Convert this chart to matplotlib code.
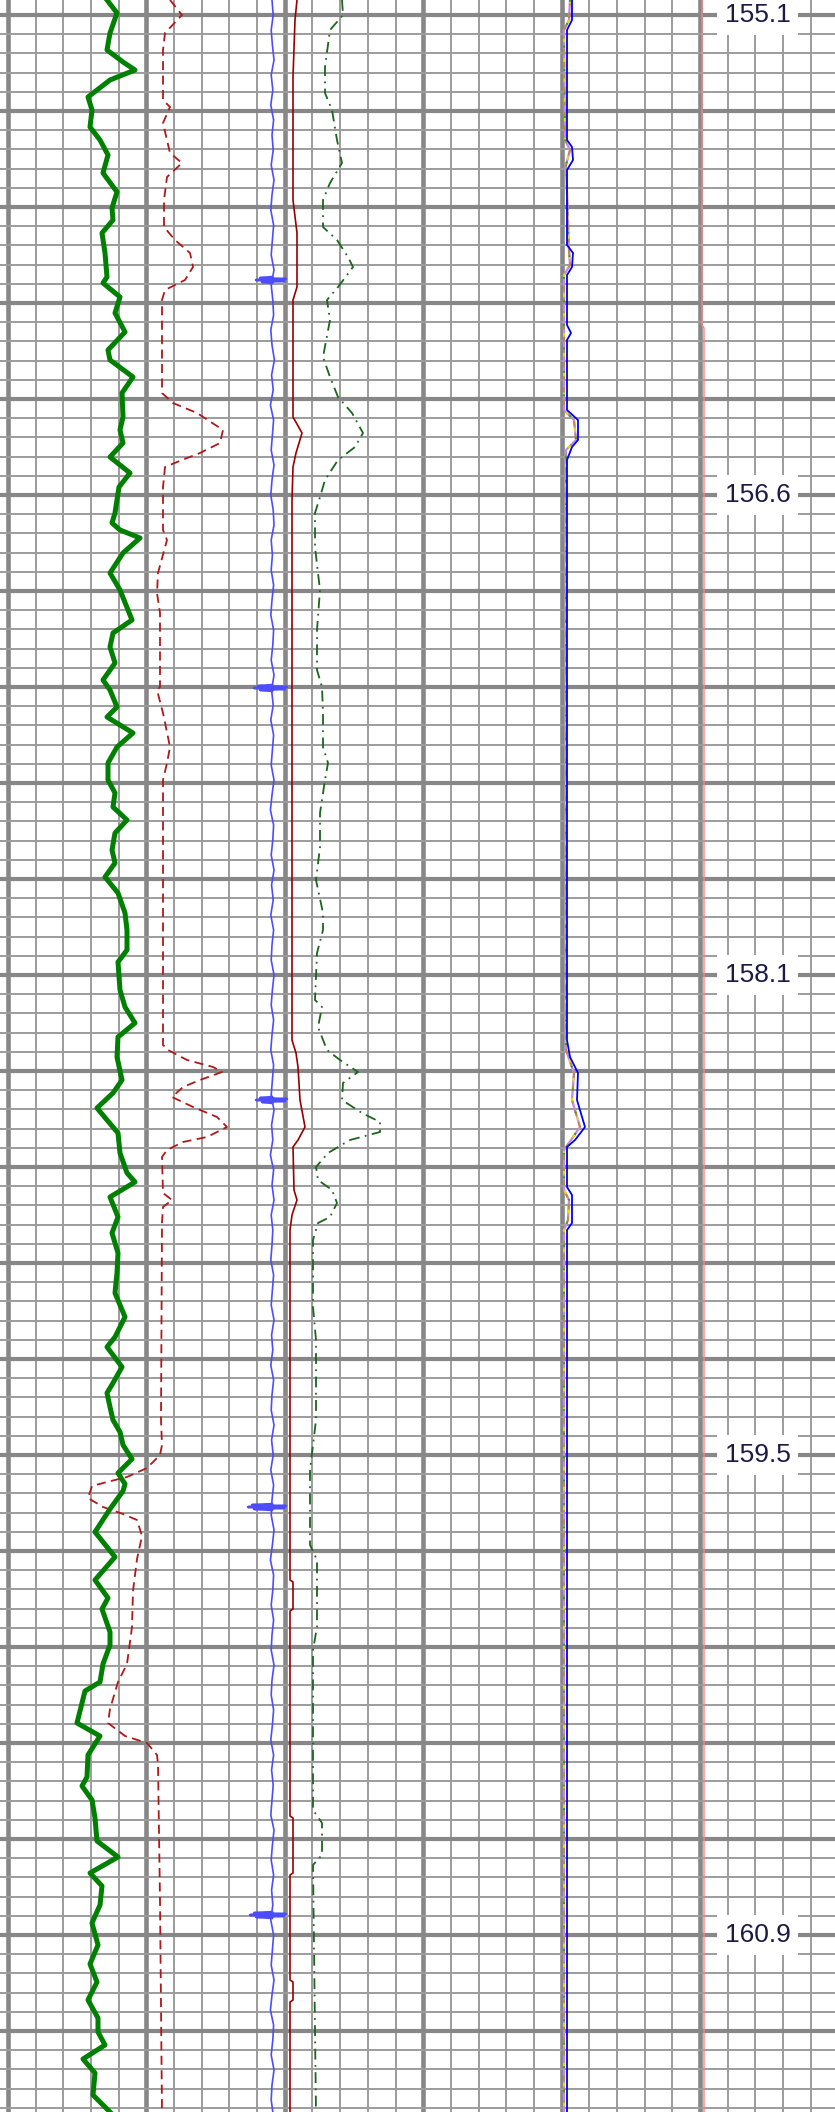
import numpy as np
import matplotlib
matplotlib.use("Agg", force=True)
import matplotlib.pyplot as plt

# depths in metres, curve values in track scale units (0..173 across the main track)
gr_depth = [155.055, 155.094, 155.154, 155.205, 155.241, 155.265, 155.295, 155.346, 155.385, 155.436,
            155.475, 155.52, 155.574, 155.631, 155.679, 155.715, 155.754, 155.814, 155.886, 155.904,
            155.946, 155.994, 156.051, 156.105, 156.135, 156.186, 156.234, 156.306, 156.345, 156.384,
            156.426, 156.474, 156.516, 156.555, 156.594, 156.624, 156.645, 156.669, 156.714, 156.774,
            156.825, 156.915, 156.954, 156.996, 157.044, 157.095, 157.125, 157.176, 157.206, 157.254,
            157.296, 157.344, 157.395, 157.434, 157.476, 157.515, 157.554, 157.605, 157.644, 157.686,
            157.734, 157.794, 157.845, 157.905, 157.941, 158.025, 158.076, 158.124, 158.166, 158.226,
            158.295, 158.334, 158.379, 158.415, 158.454, 158.514, 158.574, 158.601, 158.646, 158.706,
            158.754, 158.814, 158.874, 158.934, 159.006, 159.066, 159.096, 159.156, 159.204, 159.234,
            159.276, 159.315, 159.351, 159.39, 159.432, 159.474, 159.507, 159.528, 159.582, 159.651,
            159.726, 159.795, 159.849, 159.882, 159.951, 159.99, 160.047, 160.101, 160.128, 160.224,
            160.263, 160.32, 160.386, 160.413, 160.455, 160.509, 160.578, 160.626, 160.674, 160.713,
            160.77, 160.824, 160.89, 160.947, 161.001, 161.055, 161.109, 161.151, 161.19, 161.232,
            161.274, 161.34, 161.391]
gr_val = [24.75, 27.25, 25.5, 24.75, 28.75, 31.75, 25.5, 20.0, 21.0, 20.5,
          23.0, 25.0, 23.75, 27.25, 26.0, 26.25, 23.5, 24.25, 24.75, 23.75,
          28.0, 26.75, 29.25, 25.0, 25.5, 31.25, 28.5, 28.75, 28.0, 28.75,
          25.5, 30.5, 27.75, 27.25, 26.75, 26.0, 28.0, 33.0, 28.75, 25.5,
          28.0, 31.0, 26.25, 25.5, 26.75, 23.75, 25.5, 27.25, 24.75, 31.25,
          27.25, 25.0, 25.0, 26.75, 26.25, 29.75, 26.75, 26.0, 26.75, 24.25,
          27.5, 29.25, 29.75, 29.75, 27.5, 28.0, 29.25, 31.75, 27.5, 27.25,
          28.5, 26.25, 22.25, 24.75, 27.5, 28.0, 29.75, 31.75, 25.5, 27.5,
          26.0, 27.5, 27.25, 26.75, 29.25, 26.75, 24.75, 28.5, 26.25, 24.75,
          25.5, 26.25, 28.0, 28.75, 31.0, 27.5, 29.25, 28.75, 25.5, 21.75,
          26.75, 21.75, 25.0, 23.5, 25.5, 25.5, 23.75, 23.0, 19.25, 17.25,
          23.0, 20.0, 19.75, 18.5, 21.0, 21.75, 22.25, 27.5, 20.5, 23.5,
          23.0, 21.0, 22.5, 20.5, 22.25, 20.0, 22.5, 22.5, 24.25, 18.75,
          21.75, 21.25, 25.5]

res_depth = [155.055, 155.1, 155.154, 155.205, 155.355, 155.376, 155.424, 155.514, 155.544, 155.586,
             155.655, 155.736, 155.775, 155.814, 155.856, 155.895, 155.925, 155.955, 156.234, 156.264,
             156.294, 156.345, 156.384, 156.414, 156.435, 156.456, 156.516, 156.645, 156.675, 156.774,
             156.834, 156.894, 157.116, 157.125, 157.194, 157.296, 157.344, 157.395, 158.19, 158.205,
             158.235, 158.256, 158.271, 158.295, 158.316, 158.346, 158.376, 158.406, 158.436, 158.466,
             158.481, 158.505, 158.526, 158.634, 158.655, 158.676, 158.724, 159.315, 159.39, 159.42,
             159.459, 159.486, 159.501, 159.513, 159.549, 159.576, 159.597, 159.615, 159.663, 159.732,
             159.828, 159.936, 160.047, 160.101, 160.182, 160.224, 160.263, 160.284, 160.32, 160.347,
             160.755, 161.391]
res_val = [40.5, 43.5, 39.25, 38.75, 38.75, 40.5, 38.75, 40.5, 43.5, 39.75,
           39.0, 39.0, 41.75, 45.5, 46.25, 44.25, 39.25, 38.5, 38.5, 41.25,
           47.25, 53.75, 53.0, 48.0, 43.5, 39.25, 38.75, 38.75, 39.75, 37.5,
           37.25, 38.0, 38.0, 37.25, 38.75, 40.5, 39.75, 38.75, 38.75, 40.0,
           44.75, 51.25, 53.5, 48.0, 43.75, 41.0, 46.25, 52.25, 54.75, 49.75,
           43.75, 39.75, 38.5, 38.75, 41.0, 38.75, 38.5, 38.25, 38.5, 38.0,
           34.75, 29.75, 24.75, 21.0, 20.0, 23.75, 28.75, 32.25, 33.5, 32.25,
           31.25, 31.0, 29.75, 27.5, 25.5, 25.0, 29.25, 34.75, 37.25, 37.5,
           38.0, 38.5]

nphi_depth = [155.055, 155.1, 155.145, 155.256, 155.334, 155.385, 155.475, 155.544, 155.604, 155.655,
              155.736, 155.775, 155.826, 155.856, 155.916, 155.955, 156.015, 156.126, 156.186, 156.246,
              156.294, 156.354, 156.396, 156.435, 156.495, 156.546, 156.594, 156.696, 156.774, 156.825,
              156.945, 157.065, 157.116, 157.194, 157.296, 157.344, 157.395, 157.494, 157.596, 157.695,
              157.794, 157.845, 157.914, 158.055, 158.076, 158.136, 158.205, 158.235, 158.271, 158.304,
              158.355, 158.394, 158.421, 158.451, 158.475, 158.514, 158.556, 158.595, 158.625, 158.664,
              158.706, 158.724, 158.775, 158.976, 159.075, 159.315, 159.39, 159.465, 159.69, 159.735,
              159.936, 160.005, 160.485, 160.524, 160.62, 160.65, 161.391]
nphi_val = [83.5, 83.75, 80.5, 79.25, 79.25, 81.0, 82.25, 83.5, 80.5, 78.75,
            78.75, 82.25, 85.0, 86.25, 82.5, 79.75, 80.5, 78.75, 80.5, 82.5,
            86.0, 88.75, 86.75, 82.5, 79.25, 78.0, 76.75, 76.75, 77.5, 78.0,
            77.25, 77.25, 78.5, 78.75, 78.75, 80.0, 79.25, 78.0, 78.0, 77.0,
            78.75, 78.75, 77.25, 76.75, 78.5, 77.5, 79.75, 83.0, 87.5, 83.75,
            83.5, 88.5, 93.0, 93.0, 85.5, 80.0, 77.0, 77.5, 81.0, 82.25,
            80.5, 77.5, 76.25, 76.25, 77.0, 77.0, 76.25, 75.5, 75.5, 77.25,
            77.25, 76.25, 76.25, 78.5, 78.5, 76.25, 77.0]

cal_depth = [155.055, 155.115, 155.286, 155.655, 155.754, 155.916, 155.955, 156.306, 156.354, 156.414,
             156.456, 156.555, 158.175, 158.214, 158.256, 158.355, 158.436, 158.475, 158.496, 158.625,
             158.655, 158.70, 158.745, 159.795, 159.801, 159.882, 159.888, 160.503, 160.509, 160.674,
             160.68, 160.995, 161.001, 161.055, 161.061, 161.391]
cal_val = [72.25, 71.75, 71.25, 71.25, 72.25, 72.25, 71.25, 71.25, 73.5, 72.0,
           71.25, 71.0, 71.0, 72.0, 72.5, 73.0, 74.25, 72.5, 71.25, 71.5,
           72.25, 71.0, 70.5, 70.5, 71.25, 71.25, 70.5, 70.5, 71.25, 71.25,
           70.5, 70.5, 71.25, 71.25, 70.5, 70.5]

# noisy sonic-type log, sampled every 0.045 m from the top
noise_top = 155.055
noise_step = 0.045
noise_val = [66.0, 66.3, 65.8, 66.1, 66.5, 65.8, 66.2, 65.7, 66.4, 66.0,
             66.3, 65.8, 66.5, 66.0, 65.7, 66.4, 66.1, 65.8, 66.5, 65.8,
             66.2, 66.4, 65.7, 66.0, 66.6, 65.9, 66.3, 65.6, 66.4, 66.1,
             65.8, 66.5, 66.0, 65.7, 66.3, 66.5, 65.8, 66.1, 65.8, 66.4,
             66.0, 65.7, 66.4, 66.2, 65.8, 66.5, 65.9, 66.3, 65.7, 66.4,
             66.1, 65.8, 66.5, 66.0, 65.6, 66.4, 66.2, 65.8, 66.5, 65.9,
             66.3, 65.7, 66.4, 66.0, 65.8, 66.5, 66.1, 65.8, 66.4, 66.0,
             65.7, 66.4, 66.1, 65.8, 66.5, 65.9, 66.2, 65.6, 66.4, 66.0,
             66.5, 65.8, 66.2, 66.0, 65.7, 66.4, 66.1, 65.8, 66.5, 65.9,
             66.2, 65.7, 66.4, 66.0, 65.8, 66.5, 65.9, 66.3, 65.7, 66.4,
             66.0, 65.8, 66.5, 66.1, 65.6, 66.4, 66.2, 65.8, 66.4, 66.0,
             65.8, 66.5, 66.0, 65.8, 66.4, 66.1, 65.7, 66.4, 65.9, 66.3,
             66.0, 65.7, 66.5, 66.1, 65.8, 66.4, 65.9, 66.2, 65.7, 66.4,
             66.1, 65.8, 66.5, 66.0, 65.6, 66.4, 66.2, 65.8, 66.5, 66.0,
             65.8, 66.3]
spike_depth = [155.895, 157.119, 158.355, 159.576, 160.80]
spike_lo = [62.0, 61.5, 62.0, 60.0, 60.5]
spike_hi = [69.5, 69.75, 69.75, 69.5, 69.5]

multi_depth = [155.055, 155.115, 155.145, 155.475, 155.496, 155.535, 155.565, 155.79, 155.814, 155.856,
               155.88, 156.03, 156.054, 156.075, 156.285, 156.315, 156.375, 156.396, 156.435, 158.175,
               158.226, 158.274, 158.355, 158.436, 158.475, 158.496, 158.616, 158.64, 158.724, 158.745,
               161.391]
multi_val = [141.0, 141.0, 139.75, 139.75, 141.0, 141.25, 139.75, 139.75, 141.25, 141.0,
             139.75, 139.75, 140.75, 139.75, 139.75, 142.5, 142.5, 141.0, 139.75, 139.75,
             140.5, 142.5, 142.25, 144.25, 141.75, 139.75, 139.75, 141.0, 141.0, 139.75,
             139.75]
inner_depth = [155.055, 155.115, 155.145, 155.475, 155.505, 155.55, 155.805, 155.85, 155.88, 156.285,
               156.315, 156.375, 156.405, 158.205, 158.274, 158.355, 158.436, 158.475, 158.505, 158.625,
               158.655, 158.715, 158.745, 161.391]
inner_val = [140.5, 140.25, 139.0, 139.25, 140.5, 139.5, 140.25, 140.5, 139.0, 139.0,
             141.5, 142.0, 139.5, 139.5, 141.5, 141.0, 143.0, 140.75, 139.0, 139.0,
             140.25, 140.0, 139.0, 139.0]

pink_depth = [155.055, 156.03, 156.039, 161.391]
pink_val = [173.5, 173.5, 174.0, 174.0]

depth_ticks = [155.1, 156.54, 157.98, 159.42, 160.86]
depth_labels = ["155.1", "156.6", "158.1", "159.5", "160.9"]

fig = plt.figure(figsize=(8.35, 21.12), dpi=100)
ax = fig.add_axes([0, 0, 1, 1])
ax.set_xlim(-2, 206.75)
ax.set_ylim(161.391, 155.055)
ax.set_axis_off()

# chart paper grid
minor_x = 6.92
minor_y = 0.0576
for k in range(0, 30):
    if k % 5 == 0 and k <= 25:
        ax.axvline(k * minor_x, color="#878787", lw=3.3, zorder=1)
    else:
        ax.axvline(k * minor_x, color="#9c9c9c", lw=1.4, zorder=1)
for k in range(-1, 111):
    y = depth_ticks[0] + k * minor_y
    if k % 5 == 0:
        ax.axhline(y, color="#878787", lw=3.0, zorder=1)
    else:
        ax.axhline(y, color="#9c9c9c", lw=1.4, zorder=1)

ax.plot(pink_val, pink_depth, color="#ff7f7f", lw=1.0, zorder=2)

# overlapping array curves hugging the track line
ax.plot(inner_val, inner_depth, color="#c58ad8", lw=1.6, zorder=3)
ax.plot(inner_val, inner_depth, color="#c08a30", lw=1.3, dashes=(3, 4), zorder=3)
ax.plot(inner_val, inner_depth, color="#e8e000", lw=1.3, dashes=(2, 9), zorder=3)
ax.plot(inner_val, inner_depth, color="#20a020", lw=1.3, dashes=(1, 12), zorder=3)
ax.plot(multi_val, multi_depth, color="#0000ff", lw=1.3, zorder=3)

noise_depth = noise_top + noise_step * np.arange(len(noise_val))
ax.plot(noise_val, noise_depth, color="#4d4dff", lw=1.2, zorder=4)
for d, lo, hi in zip(spike_depth, spike_lo, spike_hi):
    ax.plot([66.0, lo + 1, hi, lo, hi - 0.5, lo + 1.5, 66.0],
            [d - 0.009, d - 0.006, d - 0.003, d, d + 0.003, d + 0.006, d + 0.009],
            color="#4d4dff", lw=1.8, zorder=4)

ax.plot(cal_val, cal_depth, color="#990000", lw=1.2, zorder=4)
ax.plot(res_val, res_depth, color="#b01818", lw=1.3, dashes=(5, 3), zorder=4)
ax.plot(nphi_val, nphi_depth, color="#1a661a", lw=1.3, dashes=(6, 3, 1, 3), zorder=4)
ax.plot(gr_val, gr_depth, color="#008000", lw=3.6, zorder=5)

for d, s in zip(depth_ticks, depth_labels):
    ax.text(187.4, d, s, ha="center", va="center", fontsize=19,
            family=["Liberation Sans", "DejaVu Sans"], color="#1a1a48", zorder=6,
            bbox=dict(boxstyle="square,pad=0.3", fc="white", ec="none"))

fig.savefig("out.png", dpi=100, facecolor="white")
